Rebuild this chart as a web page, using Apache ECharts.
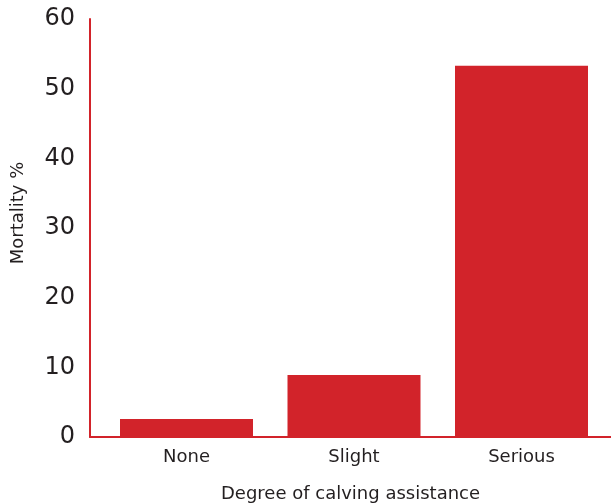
<!DOCTYPE html>
<html>
<head>
<meta charset="utf-8">
<script src="https://cdn.jsdelivr.net/npm/echarts@6/dist/echarts.min.js"></script>
<style>
  html, body { margin: 0; padding: 0; background: #fff; }
  #chart { width: 611px; height: 503px; }
</style>
</head>
<body>
<div id="chart"></div>
<script>
// data
const categories = ['None', 'Slight', 'Serious']
const mortality = [2.6, 8.9, 53.3]
const yTicks = [0, 10, 20, 30, 40, 50, 60]

const RED = '#d2232a'
const TEXT = '#231f20'
const FONT = '"DejaVu Sans", "Noto Sans", sans-serif'

const chart = echarts.init(document.getElementById('chart'))
chart.setOption({
  animation: false,
  grid: [
    // grid 0 carries the red axis lines and the y labels
    { left: 90, right: 0, top: 19, bottom: 66, containLabel: false, outerBoundsMode: 'none' },
    // grid 1 holds the bars
    { left: 102.75, right: 5.75, top: 19, bottom: 66, containLabel: false, outerBoundsMode: 'none' }
  ],
  xAxis: [
    {
      gridIndex: 0,
      type: 'value',
      min: 0,
      max: 1,
      axisLine: { show: true, lineStyle: { color: RED, width: 2 } },
      axisTick: { show: false },
      axisLabel: { show: false },
      splitLine: { show: false },
      name: 'Degree of calving assistance',
      nameLocation: 'middle',
      nameGap: 48,
      nameTextStyle: { fontFamily: FONT, fontSize: 18, color: TEXT }
    },
    {
      gridIndex: 1,
      type: 'category',
      data: categories,
      axisLine: { show: false },
      axisTick: { show: false },
      axisLabel: { fontFamily: FONT, fontSize: 18, color: TEXT, margin: 11 }
    }
  ],
  yAxis: [
    {
      gridIndex: 0,
      type: 'value',
      min: yTicks[0],
      max: yTicks[yTicks.length - 1],
      interval: 10,
      axisLine: { show: true, lineStyle: { color: RED, width: 2 } },
      axisTick: { show: false },
      splitLine: { show: false },
      axisLabel: { fontFamily: FONT, fontSize: 24, color: TEXT, margin: 15, padding: [4, 0, 0, 0] },
      name: 'Mortality %',
      nameLocation: 'middle',
      nameGap: 63,
      nameTextStyle: { fontFamily: FONT, fontSize: 18, color: TEXT, padding: [0, 0, 0, 30] }
    },
    {
      gridIndex: 1,
      type: 'value',
      min: yTicks[0],
      max: yTicks[yTicks.length - 1],
      show: false
    }
  ],
  series: [{
    type: 'bar',
    xAxisIndex: 1,
    yAxisIndex: 1,
    data: mortality,
    barCategoryGap: '20.6%',
    itemStyle: { color: RED }
  }]
})
</script>
</body>
</html>
